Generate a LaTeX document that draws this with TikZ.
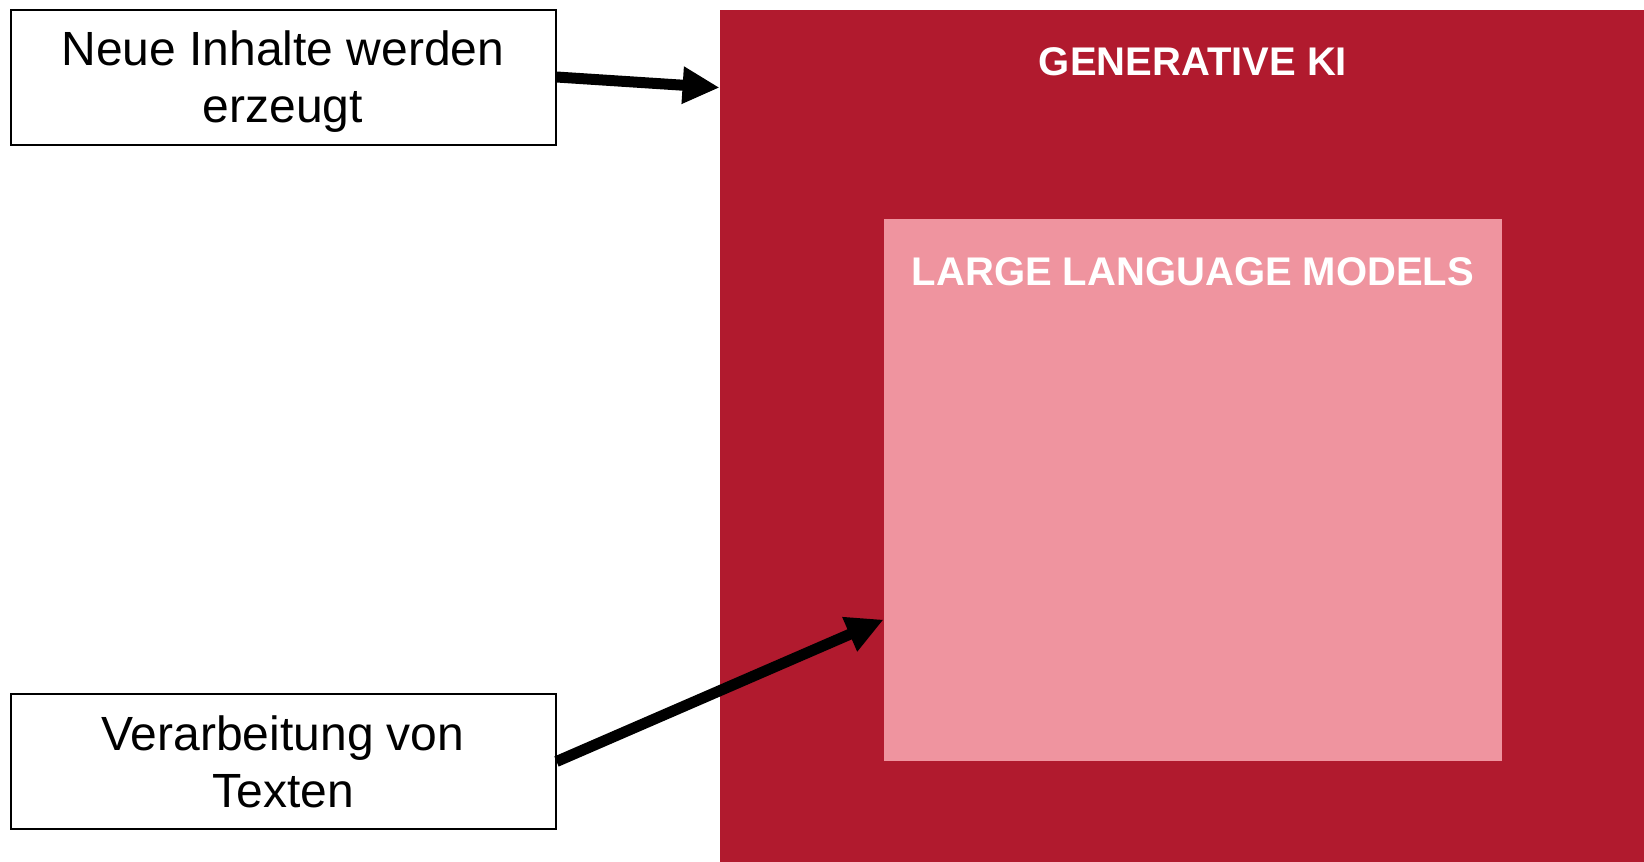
\documentclass[tikz,border=0pt]{standalone}
\usepackage{fontspec}
\setmainfont{Liberation Sans}
\usetikzlibrary{arrows.meta}
\definecolor{kired}{RGB}{177,26,46}
\definecolor{llmpink}{RGB}{239,148,159}

\begin{document}
\begin{tikzpicture}[x=0.5pt,y=-0.5pt]
	\tikzset{>={Triangle[length=18.5pt,width=17.5pt]},
		box/.style={draw,line width=1pt,minimum width=272.5pt,minimum height=67.5pt,align=center,
			font=\fontsize{24}{28.5}\selectfont,text depth=0pt},
		title/.style={text=white,font=\fontsize{20}{24}\selectfont\bfseries,anchor=base}}
	\useasboundingbox (0,0) rectangle (1644,862);
	\node[fill=kired,minimum width=462pt,minimum height=426pt] (gen) at (1182,436) {};
	\node[fill=llmpink,minimum width=309pt,minimum height=271pt] (llm) at (1193,490) {};
	\node[title] (gentitle) at (1193,75) {GENERATIVE KI};
	\node[title] (llmtitle) at (1193,285) {LARGE LANGUAGE MODELS};
	\node[box] (neu) at (283,77) {Neue Inhalte werden\\erzeugt};
	\node[box] (text) at (283,761.5) {Verarbeitung von\\Texten};
	\draw[->,line width=5.5pt] (neu.east) -- ([yshift=-39pt]gen.north west);
	\draw[->,line width=5.5pt] (text.east) -- ([yshift=-200.5pt]llm.north west);
\end{tikzpicture}
\end{document}
